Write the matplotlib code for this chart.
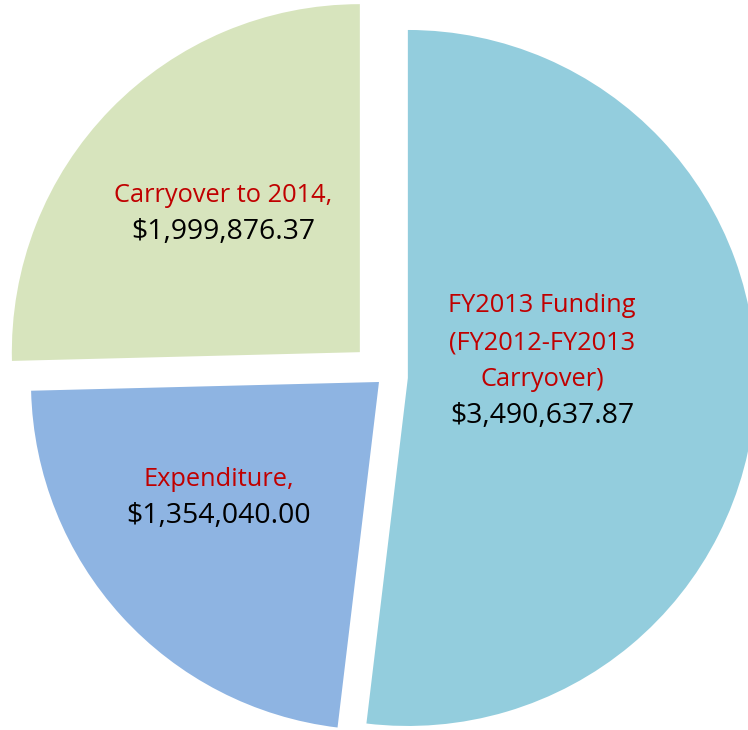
import matplotlib
matplotlib.use("Agg")
import matplotlib.pyplot as plt

# Data
categories = ["FY2013 Funding (FY2012-FY2013 Carryover)", "Expenditure", "Carryover to 2014"]
amounts = [3490637.87, 1354040.00, 1999876.37]
# share of the circle as drawn in the picture (percent)
shares = [51.9, 22.7, 25.4]
label_lines = [
    ["FY2013 Funding", "(FY2012-FY2013", "Carryover)"],
    ["Expenditure,"],
    ["Carryover to 2014,"],
]

# Style
colors = ["#93CDDD", "#8EB4E2", "#D7E4BD"]
explode = [23, 8, 35]
W, H = 748, 730

fig = plt.figure(figsize=(W / 100, H / 100), dpi=100)
ax = fig.add_axes([0, 0, 1, 1])
ax.pie(shares, colors=colors, explode=explode, startangle=90, counterclock=False,
       radius=348, center=(384.9, H - 376.6), wedgeprops=dict(linewidth=0))
ax.set_xlim(0, W)
ax.set_ylim(0, H)
ax.set_aspect("equal")
ax.axis("off")

font = ["Open Sans", "DejaVu Sans"]
fs_red = 18.3
fs_black = 20.4
red = "#C00000"
# label anchor (x center, first baseline in pixel coords)
anchors = [(542, 312), (219, 486), (223, 202)]
step = 37
for lines, amt, (x, y0) in zip(label_lines, amounts, anchors):
    for i, ln in enumerate(lines):
        ax.text(x, H - (y0 + i * step), ln, color=red, ha="center", va="baseline",
                fontsize=fs_red, family=font)
    ax.text(x, H - (y0 + len(lines) * step), f"${amt:,.2f}", color="black",
            ha="center", va="baseline", fontsize=fs_black, family=font)

fig.savefig("out.png", dpi=100)
